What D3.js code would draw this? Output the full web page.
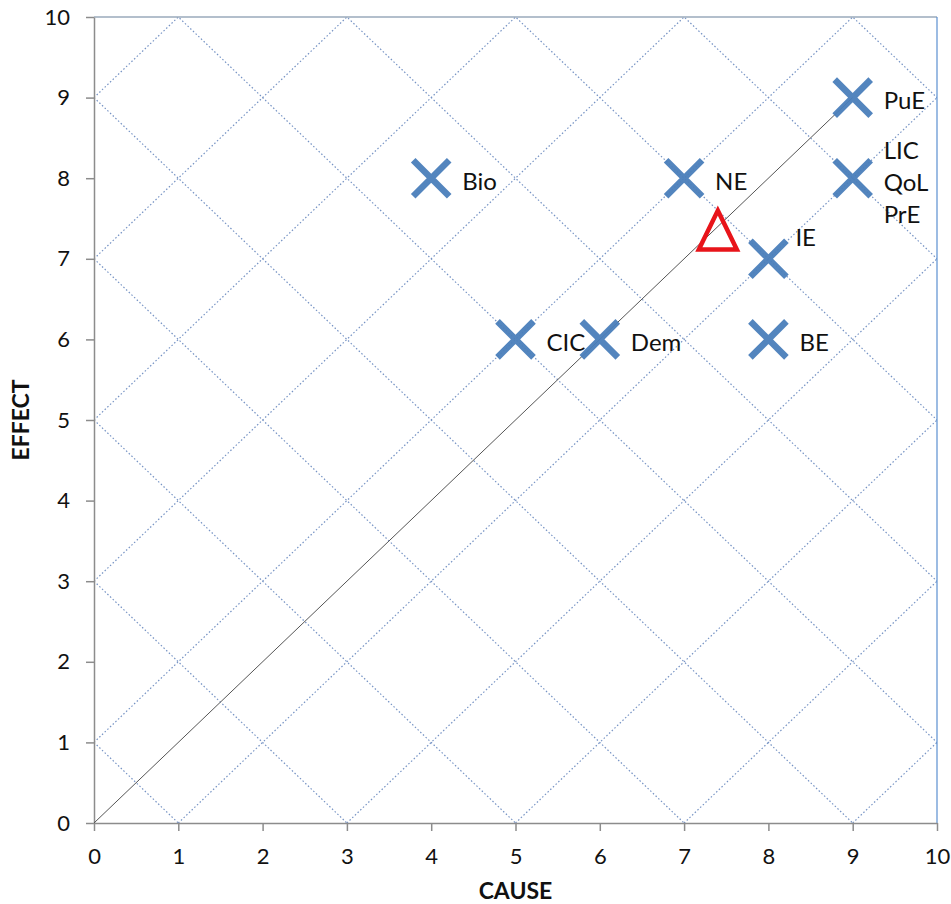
<!DOCTYPE html>
<html><head><meta charset="utf-8">
<script src="https://cdn.jsdelivr.net/npm/d3@7/dist/d3.min.js"></script>
<style>body{margin:0;background:#fff}svg{display:block}text{font-family:Lato,"Open Sans",sans-serif}</style>
</head><body><svg id="c" width="951" height="904"></svg>
<script>
const labels = ["Bio","NE","PuE","LIC\nQoL\nPrE","IE","CIC","Dem","BE"];
const causeVals = [4,7,9,9,8,5,6,8];
const effectVals = [8,8,9,8,7,6,6,6];
const labelPos = ["r","r","r","stack","ur","r","r","r"];
const triangleCause = [7.4];
const triangleEffect = [7.35];
const tickVals = [0,1,2,3,4,5,6,7,8,9,10];
const diagLine = [[0,0],[9,9]];
const gridOffsets = [1,3,5,7,9,11,13,15,17,19];

const svg = d3.select("#c");
const m = {l:94, r:937, t:17, b:823};
const x = d3.scaleLinear().domain([0,10]).range([m.l,m.r]);
const y = d3.scaleLinear().domain([0,10]).range([m.b,m.t]);

svg.append("clipPath").attr("id","clip").append("rect")
  .attr("x",m.l).attr("y",m.t).attr("width",m.r-m.l).attr("height",m.b-m.t);

const g = svg.append("g").attr("clip-path","url(#clip)");
const gridStyle = sel => sel.attr("stroke","#7693c4").attr("stroke-width",1.2).attr("stroke-dasharray","1.5,2.2");
gridOffsets.forEach(c=>{
  gridStyle(g.append("line").attr("x1",x(0)).attr("y1",y(c)).attr("x2",x(c)).attr("y2",y(0)));
  gridStyle(g.append("line").attr("x1",x(c)).attr("y1",y(0)).attr("x2",x(c+10)).attr("y2",y(10)));
  gridStyle(g.append("line").attr("x1",x(0)).attr("y1",y(c)).attr("x2",x(10)).attr("y2",y(c+10)));
});

svg.append("line").attr("x1",m.l).attr("x2",m.r).attr("y1",m.t).attr("y2",m.t).attr("stroke","#9aaabb").attr("stroke-width",1.5);
svg.append("line").attr("x1",m.r).attr("x2",m.r).attr("y1",m.t).attr("y2",m.b).attr("stroke","#5b8fd0").attr("stroke-width",1.2);

const xa = svg.append("g").attr("transform",`translate(0,${m.b})`)
  .call(d3.axisBottom(x).tickValues(tickVals).tickSize(8).tickSizeOuter(0).tickPadding(17));
const ya = svg.append("g").attr("transform",`translate(${m.l},0)`)
  .call(d3.axisLeft(y).tickValues(tickVals).tickSize(8).tickSizeOuter(0).tickPadding(16));
[xa,ya].forEach(a=>{
  a.selectAll("path,line").attr("stroke","#8c8c8c").attr("stroke-width",1.5);
  a.selectAll("text").attr("font-size",22).attr("fill","#111");
});

svg.append("line").attr("x1",x(diagLine[0][0])).attr("y1",y(diagLine[0][1]))
  .attr("x2",x(diagLine[1][0])).attr("y2",y(diagLine[1][1]))
  .attr("stroke","#555").attr("stroke-width",1);

const s = 18;
const pts = labels.map((l,i)=>({l, cx:causeVals[i], cy:effectVals[i], pos:labelPos[i]}));
const mk = svg.append("g");
pts.forEach(p=>{
  const px = x(p.cx), py = y(p.cy);
  mk.append("path").attr("d",`M${px-s},${py-s}L${px+s},${py+s}M${px-s},${py+s}L${px+s},${py-s}`)
    .attr("stroke","#4a7ebb").attr("stroke-width",6.5).attr("fill","none").attr("opacity",0.95);
});
const tx = x(triangleCause[0]), ty = y(triangleEffect[0]);
svg.append("path").attr("d",`M${tx},${ty-20}L${tx+19},${ty+19}L${tx-19},${ty+19}Z`)
  .attr("fill","none").attr("stroke","#e8141a").attr("stroke-width",4.5).attr("stroke-linejoin","miter");

const lt = svg.append("g").attr("font-size",24).attr("fill","#111");
pts.forEach(p=>{
  const px = x(p.cx), py = y(p.cy);
  if(p.pos==="stack"){
    p.l.split("\n").forEach((t,j)=>{
      lt.append("text").attr("x",px+31).attr("y",py+4+(j-1)*32).attr("dy","0.35em").text(t);
    });
  } else if(p.pos==="ur"){
    lt.append("text").attr("x",px+27).attr("y",py-21).attr("dy","0.35em").text(p.l);
  } else {
    lt.append("text").attr("x",px+31).attr("y",py+3).attr("dy","0.35em").text(p.l);
  }
});

svg.append("text").attr("x",(m.l+m.r)/2).attr("y",899).attr("text-anchor","middle")
  .attr("font-size",23).attr("font-weight","bold").attr("fill","#111").text("CAUSE");
svg.append("text").attr("transform",`translate(29,${(m.t+m.b)/2}) rotate(-90)`).attr("text-anchor","middle")
  .attr("font-size",23).attr("font-weight","bold").attr("fill","#111").text("EFFECT");
</script></body></html>
